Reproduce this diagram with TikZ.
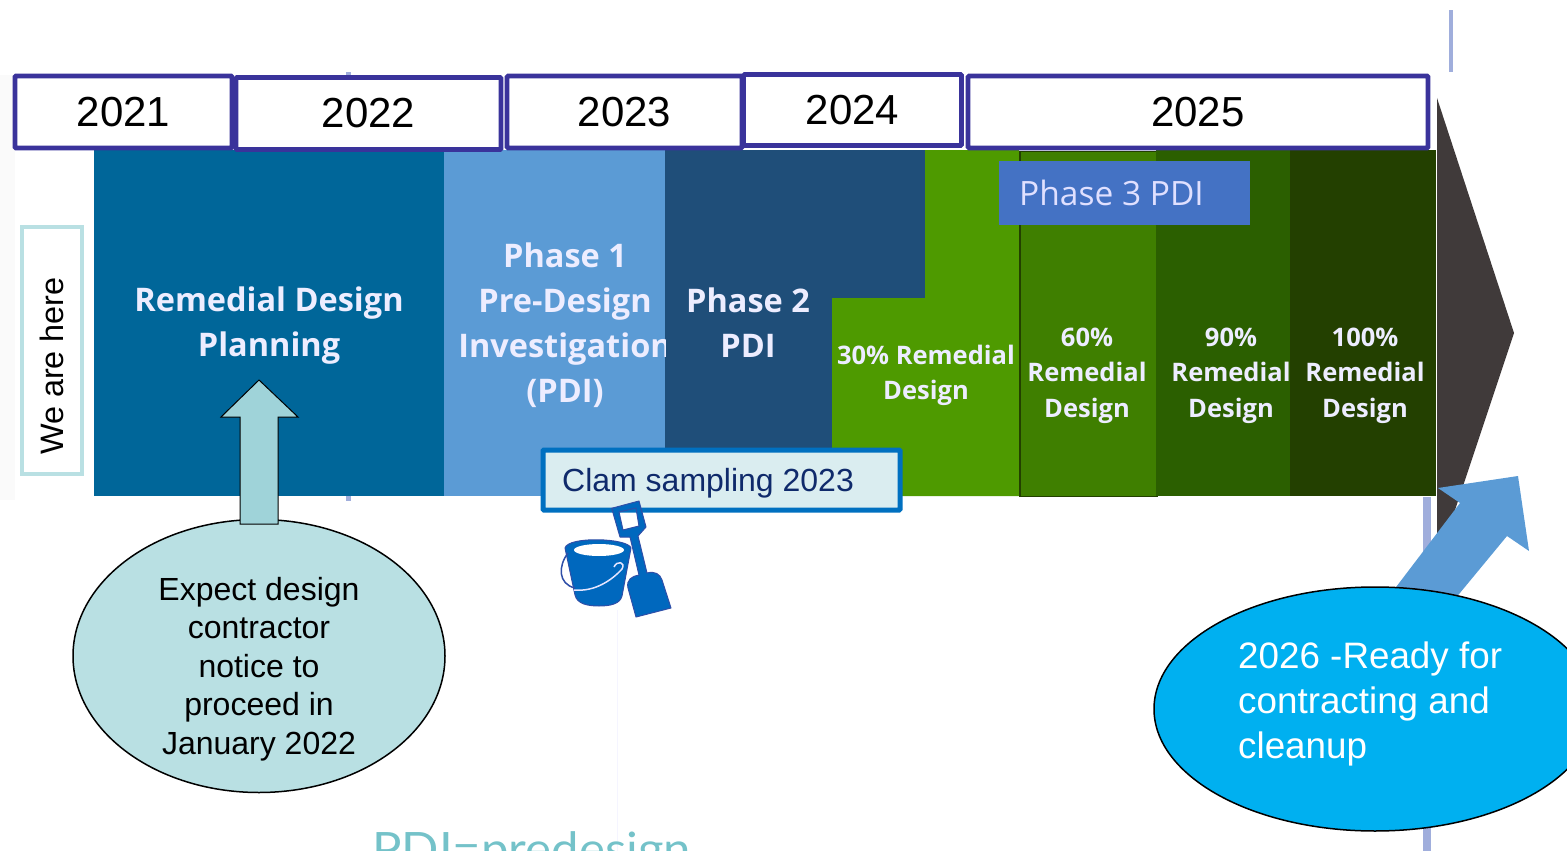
\documentclass[tikz,border=0pt]{standalone}
\usepackage{fontspec}
\setmainfont{Liberation Sans}
\newfontfamily\segoe{Open Sans}
\newfontfamily\lato{Lato}
\usetikzlibrary{shapes.geometric}
\definecolor{yearblue}{HTML}{3A339B}
\definecolor{planblue}{HTML}{006699}
\definecolor{phaseone}{HTML}{5B9BD5}
\definecolor{phasetwo}{HTML}{1F4E79}
\definecolor{greenA}{HTML}{4E9A00}
\definecolor{greenB}{HTML}{3F7F00}
\definecolor{greenC}{HTML}{2B5F00}
\definecolor{greenD}{HTML}{234000}
\definecolor{phasethree}{HTML}{4472C4}
\definecolor{headgrey}{HTML}{403A3A}
\definecolor{paleteal}{HTML}{B9E0E3}
\definecolor{arrowteal}{HTML}{9FD3D9}
\definecolor{skyfill}{HTML}{00B0F0}
\definecolor{clamline}{HTML}{0070C0}
\definecolor{clamfill}{HTML}{DAEDF0}
\definecolor{clamtext}{HTML}{0F2A6B}
\definecolor{toolblue}{HTML}{0068BE}
\definecolor{tooledge}{HTML}{2F4FA8}
\definecolor{thinbar}{HTML}{A0AEDC}
\definecolor{pditeal}{HTML}{74C2C9}
\tikzset{
  yearbox/.style={draw=yearblue,line width=4.6pt,fill=white,rounded corners=1pt,inner sep=0pt,font=\fontsize{42}{42}\selectfont,text=black},
  seg/.style={inner sep=0pt,minimum height=346pt,anchor=north west},
  bigcap/.style={inner sep=0pt,align=center,text=white!93!blue,font=\segoe\bfseries\fontsize{32.5}{45}\selectfont},
  smallcap/.style={inner sep=0pt,align=center,text=white!93!blue,font=\segoe\bfseries\fontsize{25.5}{35.5}\selectfont},
  oval/.style={ellipse,draw=black,line width=1.5pt,inner sep=0pt},
  toolshape/.style={fill=toolblue,draw=tooledge,line width=1pt,line join=round},
}
\begin{document}
\begin{tikzpicture}[x=1pt,y=-1pt]
\useasboundingbox (0,0) rectangle (1567,851);
\clip (0,0) rectangle (1567,851);
% faint backgrounds and thin bars
\fill[black!2] (0,75) rectangle (15,500);
\fill[thinbar] (1449,10) rectangle (1453,72);
\fill[thinbar] (1423,497) rectangle (1431,851);
\fill[thinbar] (346,72) rectangle (351,78);
\fill[thinbar] (346,495) rectangle (351,501);
\draw[blue!4,line width=1pt] (617,610) -- (617,851);
% arrow head
\fill[headgrey] (1437,98) -- (1514,333) -- (1437,564) -- cycle;
% segments
\node[seg,fill=planblue,minimum width=350pt] (plan) at (94,150) {};
\node[seg,fill=phaseone,minimum width=221pt] (ph1) at (444,150) {};
\fill[phasetwo] (665,150) -- (925,150) -- (925,298) -- (832,298) -- (832,496) -- (665,496) -- cycle;
\fill[greenA] (832,298) -- (925,298) -- (925,150) -- (1019,150) -- (1019,496) -- (832,496) -- cycle;
\node[seg,fill=greenB,minimum width=137pt,draw=greenD,line width=1.5pt,minimum height=345pt] (d60) at (1019,150.5) {};
\node[seg,fill=greenC,minimum width=134pt] (d90) at (1156,150) {};
\node[seg,fill=greenD,minimum width=146pt] (d100) at (1290,150) {};
\node[fill=phasethree,inner sep=0pt,minimum width=251pt,minimum height=64pt,anchor=north west] (ph3) at (999,161) {};
\node[inner sep=0pt,anchor=west,text=white!88!blue,font=\segoe\fontsize{33.5}{33.5}\selectfont] (ph3t) at (1019,193) {Phase 3 PDI};
% segment captions
\node[bigcap] (plant) at (269,326) {Remedial Design\\Planning};
\begin{scope}
\clip (444,150) rectangle (665,496);
\node[bigcap] (ph1t) at (565,325) {Phase 1\\Pre-Design\\Investigation\\(PDI)};
\end{scope}
\node[bigcap] (ph2t) at (748,323) {Phase 2\\PDI};
\node[smallcap] (d30t) at (926,375.5) {30\% Remedial\\Design};
\node[smallcap] (d60t) at (1087,375.5) {60\%\\Remedial\\Design};
\node[smallcap] (d90t) at (1231,375.5) {90\%\\Remedial\\Design};
\node[smallcap] (d100t) at (1365,375.5) {100\%\\Remedial\\Design};
% year boxes
\node[yearbox,minimum width=217pt,minimum height=72pt] (y21) at (123.5,112) {2021};
\node[yearbox,minimum width=265pt,minimum height=72pt] (y22) at (368.5,113.5) {2022};
\node[yearbox,minimum width=235pt,minimum height=72pt] (y23) at (624.5,112) {2023};
\node[yearbox,minimum width=218pt,minimum height=71pt] (y24) at (852.5,110) {2024};
\node[yearbox,minimum width=460pt,minimum height=72pt] (y25) at (1198,112) {2025};
% we are here
\node[draw=paleteal,line width=4pt,fill=white,minimum width=60pt,minimum height=247pt,inner sep=0pt] (here) at (52,350.5) {};
\node[rotate=90,inner sep=0pt,font=\fontsize{32.4}{32}\selectfont] (heret) at (52,366) {We are here};
% left oval
\node[oval,fill=paleteal,minimum width=372pt,minimum height=273pt] (leftoval) at (259,656) {};
\node[inner sep=0pt,align=center,font=\fontsize{32}{38.4}\selectfont] (leftt) at (259,669) {Expect design\\contractor\\notice to\\proceed in\\January 2022};
% up arrow
\draw[fill=arrowteal,draw=black,line width=1pt,line join=miter] (259,380) -- (298,417) -- (278,417) -- (278,524) -- (240,524) -- (240,417) -- (221,417) -- cycle;
% blue arrow
\fill[phaseone] (1438,488) -- (1518,476) -- (1529,551) -- (1507,536) -- (1450,605) -- (1390,595) -- (1460,503) -- cycle;
% right oval
\node[oval,fill=skyfill,minimum width=442pt,minimum height=244pt] (rightoval) at (1375,709) {};
\node[inner sep=0pt,align=left,anchor=west,text=white,font=\fontsize{36.8}{45}\selectfont] (rightt) at (1238,704) {2026 -Ready for\\contracting and\\cleanup};
% clam box
\node[draw=clamline,line width=5pt,fill=clamfill,rounded corners=1pt,minimum width=357pt,minimum height=60pt,inner sep=0pt] (clam) at (721.5,480) {};
\node[inner sep=0pt,anchor=west,text=clamtext,font=\fontsize{32}{32}\selectfont] (clamt) at (562,483) {Clam sampling 2023};
% bucket
\path[toolshape] (565,548) -- (575,595) .. controls (577,604) and (588,606) .. (599,606) .. controls (610,606) and (620,604) .. (622,596) -- (631,548) .. controls (628,538) and (568,536) .. (565,548) -- cycle;
\fill[white] (599,550) ellipse [x radius=25pt,y radius=6pt];
\draw[tooledge,line width=1.5pt] (568,553) .. controls (558,566) and (558,584) .. (575,588);
\draw[white!90!blue,line width=1.5pt] (574,590) .. controls (595,592) and (612,580) .. (622,569) .. controls (626,562) and (617,560) .. (614,567);
% shovel
\path[toolshape,even odd rule] (611.7,508.3) -- (639,501) -- (646,527) -- (638,536) -- (647,573) .. controls (655,571) and (660,574) .. (662,580) -- (671,608) -- (636,617) -- (628,588) .. controls (626,580) and (632,576) .. (639,575) -- (630,537) -- (620,537) -- cycle
  (619,512) -- (636,508) -- (639,526) -- (623,530) -- cycle;
% PDI note
\node[inner sep=0pt,anchor=base west,xscale=1.067,text=pditeal,font=\lato\fontsize{46}{46}\selectfont] (pdi) at (372,865) {PDI=predesign};
\end{tikzpicture}
\end{document}
